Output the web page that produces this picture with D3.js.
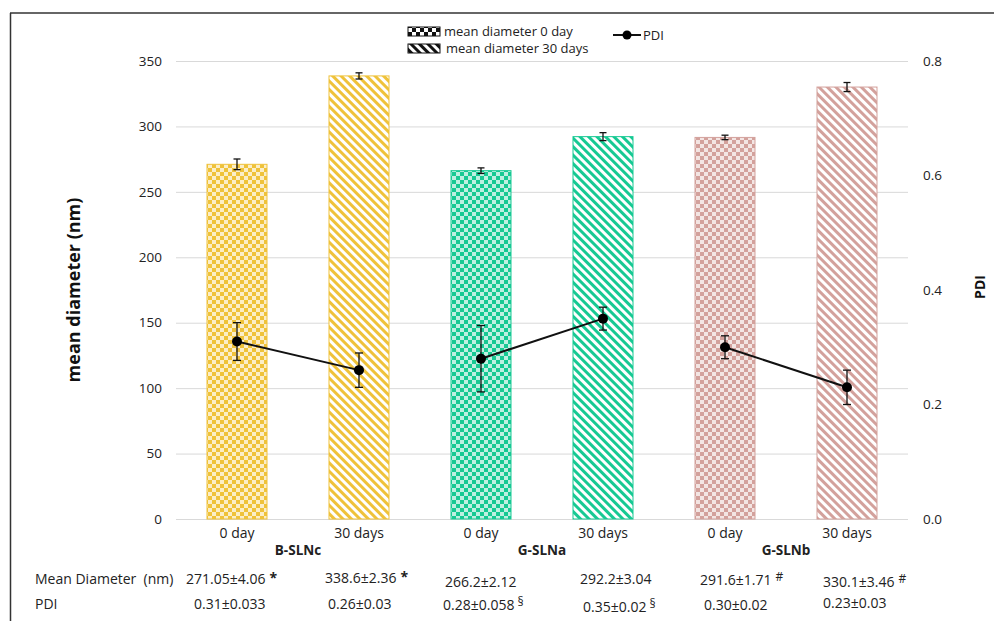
<!DOCTYPE html>
<html><head><meta charset="utf-8">
<script src="https://cdn.jsdelivr.net/npm/d3@7"></script>
<style>
body{margin:0;background:#fff;}
svg{display:block;font-family:"Open Sans",Lato,sans-serif;}
</style></head>
<body><svg id="chart" width="994" height="621"></svg>
<script>
const groups = ["B-SLNc","G-SLNa","G-SLNb"];
const timepoints = ["0 day","30 days"];
const categories = ["B-SLNc|0 day","B-SLNc|30 days","G-SLNa|0 day","G-SLNa|30 days","G-SLNb|0 day","G-SLNb|30 days"];
const meanDiameter = [271.05, 338.6, 266.2, 292.2, 291.6, 330.1];
const meanDiameterErr = [4.06, 2.36, 2.12, 3.04, 1.71, 3.46];
const pdi = [0.31, 0.26, 0.28, 0.35, 0.30, 0.23];
const pdiErr = [0.033, 0.03, 0.058, 0.02, 0.02, 0.03];
const diameterText = ["271.05±4.06","338.6±2.36","266.2±2.12","292.2±3.04","291.6±1.71","330.1±3.46"];
const diameterMark = ["*","*","","","#","#"];
const pdiText = ["0.31±0.033","0.26±0.03","0.28±0.058","0.35±0.02","0.30±0.02","0.23±0.03"];
const pdiMark = ["","","§","§","",""];
const leftTicks = [0,50,100,150,200,250,300,350];
const rightTicks = [0.0,0.2,0.4,0.6,0.8];
const groupColors = ["#EFC23A","#17C993","#D3A19C"];
const legendLabels = ["mean diameter 0 day","mean diameter 30 days","PDI"];

const svg = d3.select("#chart");
const W = 994, H = 621;
const plot = {left:176, right:908, top:61, bottom:519};

const x = d3.scaleBand().domain(categories).range([plot.left, plot.right]).paddingInner(0.5).paddingOuter(0.25);
const y = d3.scaleLinear().domain([0,350]).range([plot.bottom, plot.top]);
const y2 = d3.scaleLinear().domain([0,0.8]).range([plot.bottom, plot.top]);

// patterns
const defs = svg.append("defs");
function makePatterns(id, color, bg){
  const c = defs.append("pattern").attr("id","chk-"+id).attr("patternUnits","userSpaceOnUse")
    .attr("width",8).attr("height",8);
  c.append("rect").attr("width",8).attr("height",8).attr("fill",bg);
  c.append("rect").attr("width",4).attr("height",4).attr("fill",color);
  c.append("rect").attr("x",4).attr("y",4).attr("width",4).attr("height",4).attr("fill",color);
  const h = defs.append("pattern").attr("id","hat-"+id).attr("patternUnits","userSpaceOnUse")
    .attr("width",6).attr("height",6).attr("patternTransform","rotate(-45)");
  h.append("rect").attr("width",6).attr("height",6).attr("fill","#fff");
  h.append("rect").attr("width",3).attr("height",6).attr("fill",color);
}
groupColors.forEach((c,i)=>makePatterns(i, c, d3.interpolateRgb(c,"#fff")(0.72)));
makePatterns("leg","#111","#fff");

// frame
svg.append("line").attr("x1",10).attr("x2",W).attr("y1",13).attr("y2",13).attr("stroke","#333").attr("stroke-width",1.5);
svg.append("line").attr("x1",10.5).attr("x2",10.5).attr("y1",13).attr("y2",H).attr("stroke","#333").attr("stroke-width",1.5);

// gridlines
svg.append("g").selectAll("line").data(leftTicks).join("line")
  .attr("x1",plot.left).attr("x2",plot.right)
  .attr("y1",d=>y(d)+0.5).attr("y2",d=>y(d)+0.5)
  .attr("stroke","#d9d9d9").attr("stroke-width",1);

// left axis labels
svg.append("g").selectAll("text").data(leftTicks).join("text")
  .attr("x",162).attr("y",d=>y(d)).attr("dy","0.35em").attr("text-anchor","end")
  .attr("font-size",13.5).attr("fill","#222").text(d=>d);
// right axis labels
svg.append("g").selectAll("text").data(rightTicks).join("text")
  .attr("x",923).attr("y",d=>y2(d)).attr("dy","0.35em").attr("text-anchor","start")
  .attr("font-size",13.5).attr("fill","#222").text(d=>d.toFixed(1));

// axis titles
svg.append("text").attr("transform",`translate(80,${(plot.top+plot.bottom)/2}) rotate(-90)`)
  .attr("text-anchor","middle").attr("font-size",18).attr("font-weight","bold").attr("fill","#111").text("mean diameter (nm)");
svg.append("text").attr("transform",`translate(985,${(plot.top+plot.bottom)/2-3}) rotate(-90)`)
  .attr("text-anchor","middle").attr("font-size",14).attr("font-weight","bold").attr("fill","#111").text("PDI");

// bars
const gi = i => Math.floor(i/2);
svg.append("g").selectAll("rect").data(categories).join("rect")
  .attr("x",d=>x(d)+0.5).attr("width",x.bandwidth()-1)
  .attr("y",(d,i)=>y(meanDiameter[i])).attr("height",(d,i)=>y(0)-y(meanDiameter[i]))
  .attr("fill",(d,i)=>`url(#${i%2===0?"chk":"hat"}-${gi(i)})`)
  .attr("stroke",(d,i)=>groupColors[gi(i)]).attr("stroke-width",1);

// bar error bars
const eb = svg.append("g").attr("stroke","#111").attr("stroke-width",1.3);
categories.forEach((d,i)=>{
  const cx = x(d)+x.bandwidth()/2;
  const y1 = y(meanDiameter[i]+meanDiameterErr[i]), y0 = y(meanDiameter[i]-meanDiameterErr[i]);
  eb.append("line").attr("x1",cx).attr("x2",cx).attr("y1",y1).attr("y2",y0);
  eb.append("line").attr("x1",cx-3.5).attr("x2",cx+3.5).attr("y1",y1).attr("y2",y1);
  eb.append("line").attr("x1",cx-3.5).attr("x2",cx+3.5).attr("y1",y0).attr("y2",y0);
});

// PDI lines (per group)
const line = d3.line().x(d=>x(categories[d])+x.bandwidth()/2).y(d=>y2(pdi[d]));
groups.forEach((g,k)=>{
  svg.append("path").datum([2*k,2*k+1]).attr("d",line).attr("fill","none").attr("stroke","#111").attr("stroke-width",2);
});
const pe = svg.append("g").attr("stroke","#111").attr("stroke-width",1.3);
categories.forEach((d,i)=>{
  const cx = x(d)+x.bandwidth()/2;
  const y1 = y2(pdi[i]+pdiErr[i]), y0 = y2(pdi[i]-pdiErr[i]);
  pe.append("line").attr("x1",cx).attr("x2",cx).attr("y1",y1).attr("y2",y0);
  pe.append("line").attr("x1",cx-4).attr("x2",cx+4).attr("y1",y1).attr("y2",y1);
  pe.append("line").attr("x1",cx-4).attr("x2",cx+4).attr("y1",y0).attr("y2",y0);
});
svg.append("g").selectAll("circle").data(categories).join("circle")
  .attr("cx",d=>x(d)+x.bandwidth()/2).attr("cy",(d,i)=>y2(pdi[i])).attr("r",5).attr("fill","#000");

// category labels
svg.append("g").selectAll("text").data(categories).join("text")
  .attr("x",d=>x(d)+x.bandwidth()/2).attr("y",533).attr("dy","0.35em").attr("text-anchor","middle")
  .attr("font-size",14).attr("fill","#222").text(d=>d.split("|")[1]);
svg.append("g").selectAll("text").data(groups).join("text")
  .attr("x",(g,k)=>(x(categories[2*k])+x(categories[2*k+1])+x.bandwidth())/2).attr("y",550).attr("dy","0.35em")
  .attr("text-anchor","middle").attr("font-size",13.5).attr("font-weight","bold").attr("fill","#222").text(g=>g);

// table
const tbl = svg.append("g").attr("font-size",14).attr("fill","#222");
tbl.append("text").attr("x",35).attr("y",579).attr("dy","0.35em").attr("xml:space","preserve").text("Mean Diameter  (nm)");
tbl.append("text").attr("x",35).attr("y",604).attr("dy","0.35em").text("PDI");
const dX = [186,325,445,580,700,823];
const dY = [579,578,582,579,580,582];
const pX = [194,328,443,583,704,823];
const pY = [604,604,605,607,605,603];
categories.forEach((d,i)=>{
  const t = tbl.append("text").attr("x",dX[i]).attr("y",dY[i]).attr("dy","0.35em").text(diameterText[i]);
  if(diameterMark[i]) t.append("tspan").attr("dx",4).attr("dy",diameterMark[i]==="*"?-1:-4)
    .attr("font-size",diameterMark[i]==="*"?14:12).attr("font-weight",diameterMark[i]==="*"?"bold":"normal").text(diameterMark[i]);
  const p = tbl.append("text").attr("x",pX[i]).attr("y",pY[i]).attr("dy","0.35em").text(pdiText[i]);
  if(pdiMark[i]) p.append("tspan").attr("dx",3).attr("dy",-4).attr("font-size",12).text(pdiMark[i]);
});

// legend
const lg = svg.append("g").attr("font-size",13).attr("fill","#222");
lg.append("rect").attr("x",408).attr("y",27).attr("width",32).attr("height",9).attr("fill","url(#chk-leg)").attr("stroke","#111");
lg.append("text").attr("x",444).attr("y",31.5).attr("dy","0.35em").text(legendLabels[0]);
lg.append("rect").attr("x",408).attr("y",44).attr("width",32).attr("height",9).attr("fill","url(#hat-leg)").attr("stroke","#111");
lg.append("text").attr("x",446).attr("y",48.5).attr("dy","0.35em").text(legendLabels[1]);
lg.append("line").attr("x1",613).attr("x2",641).attr("y1",35).attr("y2",35).attr("stroke","#111").attr("stroke-width",2);
lg.append("circle").attr("cx",627).attr("cy",35).attr("r",4.5).attr("fill","#000");
lg.append("text").attr("x",643).attr("y",35).attr("dy","0.35em").text(legendLabels[2]);
</script></body></html>
